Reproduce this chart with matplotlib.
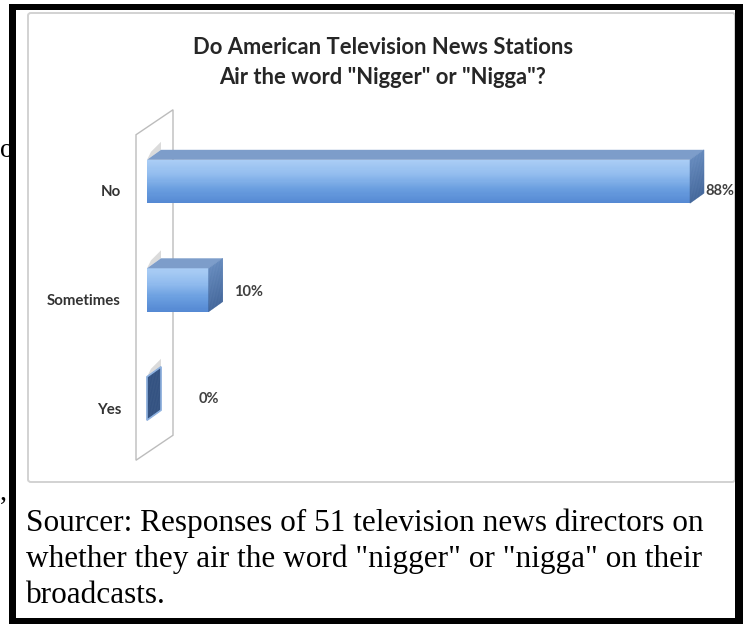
import matplotlib
matplotlib.use("Agg")
import matplotlib.pyplot as plt
import numpy as np
from matplotlib.patches import Polygon, Rectangle, FancyBboxPatch
from matplotlib.transforms import offset_copy
import matplotlib.colors as mcolors

# ---------------- data ----------------
categories = ["Yes", "Sometimes", "No"]
values = [0, 10, 88]
value_labels = ["0%", "10%", "88%"]
title_lines = ["Do American Television News Stations",
               'Air the word "Nigger" or "Nigga"?']
caption_lines = ["Sourcer: Responses of 51 television news directors on",
                 'whether they air the word "nigger" or "nigga" on their',
                 "broadcasts."]

# ---------------- figure ----------------
W, H, DPI = 745, 624, 100
fig = plt.figure(figsize=(W / DPI, H / DPI), dpi=DPI)
fig.patch.set_facecolor("white")


def fx(px):
    return px / W


def fy(py):
    return 1 - py / H


# page fragments on the left edge (partly hidden behind the frame)
fig.text(fx(0), fy(157), "o", fontsize=20, family="Liberation Serif",
         color="black", va="baseline", ha="left", zorder=0)
fig.text(fx(0), fy(500), ",", fontsize=20, family="Liberation Serif",
         color="black", va="baseline", ha="left", zorder=0)

# chart box
box = FancyBboxPatch((fx(28), fy(482)), fx(735) - fx(28), fy(13) - fy(482),
                     boxstyle="round,pad=0,rounding_size=0.004",
                     transform=fig.transFigure, facecolor="white",
                     edgecolor="#d2d2d2", lw=1.4, zorder=1)
fig.add_artist(box)

# black frame
for (x0, y0, x1, y1) in [(9, 4, 16, 624), (9, 4, 743, 10), (735, 4, 743, 624), (9, 618, 743, 624)]:
    fig.add_artist(Rectangle((fx(x0), fy(y1)), fx(x1) - fx(x0), fy(y0) - fy(y1),
                             transform=fig.transFigure, facecolor="black",
                             edgecolor="none", zorder=10))

# title
for txt, yy in zip(title_lines, [47, 77]):
    fig.text(fx(383), fy(yy), txt, ha="center", va="center", fontsize=15.8,
             fontweight="bold", family="Lato", color="#262626", zorder=3)

# caption
for txt, yy in zip(caption_lines, [531, 567, 603]):
    fig.text(fx(26), fy(yy), txt, ha="left", va="baseline", fontsize=22.5,
             family="Liberation Serif", color="black", zorder=3)

# ---------------- axes (bar front plane) ----------------
x0_px, x88_px = 147, 690
px_per_unit = (x88_px - x0_px) / 88.0
xmax = 100
ax_w = xmax * px_per_unit
spacing = 108.5
cy_top = 181.5  # pixel (from top) of the top category centre
ax_top = cy_top - spacing / 2
ax_h = spacing * 3
ax = fig.add_axes([fx(x0_px), fy(ax_top + ax_h), ax_w / W, ax_h / H])
ax.set_xlim(0, xmax)
ax.set_ylim(-0.5, 2.5)
ax.axis("off")
ax.patch.set_visible(False)
ax.set_zorder(2)


def shift(x, y, dx, dy):
    X, Y = ax.transData.transform((x, y))
    return tuple(ax.transData.inverted().transform((X + dx, Y + dy)))


# side wall (value-zero plane)
wf = (-11, -7.5)
wb = (26, 17.5)
ylo, yhi = ax.get_ylim()
wall = Polygon([shift(0, ylo, *wf), shift(0, yhi, *wf),
                shift(0, yhi, *wb), shift(0, ylo, *wb)],
               closed=True, facecolor="white", edgecolor="#bcbcbc", lw=1.0,
               clip_on=False, zorder=1)
ax.add_patch(wall)

bh = 0.40
depth = (14, 10)
front_cmap = mcolors.LinearSegmentedColormap.from_list(
    "front", ["#5589d3", "#6b9fe0", "#92bcee", "#aacdf5"])
side_cmap = mcolors.LinearSegmentedColormap.from_list(
    "side", ["#3e6399", "#6086bb"])
N = 40
for i, (cat, v, lab) in enumerate(zip(categories, values, value_labels)):
    yb, yt = i - bh / 2, i + bh / 2
    # soft shadow on the wall at the bar's root
    sh = Polygon([(0, yt), shift(0, yt, *depth), shift(0, yt, depth[0], depth[1] + 8),
                  shift(0, yt, 4, 8)], closed=True, facecolor="#b8b8b8",
                 edgecolor="none", alpha=0.5, clip_on=False, zorder=2)
    ax.add_patch(sh)
    if v > 0:
        edges = np.linspace(yb, yt, N + 1)
        for k in range(N):
            ax.barh((edges[k] + edges[k + 1]) / 2, v, height=(yt - yb) / N,
                    left=0, color=front_cmap(k / (N - 1)), edgecolor="none",
                    clip_on=False, zorder=4)
        ax.add_patch(Polygon([(0, yt), (v, yt), shift(v, yt, *depth), shift(0, yt, *depth)],
                             closed=True, facecolor="#7d9dca", edgecolor="none",
                             clip_on=False, zorder=4))
        side_cols = [side_cmap(k / (N - 1)) for k in range(N)]
    else:
        side_cols = ["#2d4d7e"] * N
    edges = np.linspace(yb, yt, N + 1)
    for k in range(N):
        ax.add_patch(Polygon([(v, edges[k]), (v, edges[k + 1]),
                              shift(v, edges[k + 1], *depth), shift(v, edges[k], *depth)],
                             closed=True, facecolor=side_cols[k], edgecolor=side_cols[k],
                             lw=0.3, clip_on=False, zorder=4))
    if v == 0:
        ax.add_patch(Polygon([(v, yb), (v, yt), shift(v, yt, *depth), shift(v, yb, *depth)],
                             closed=True, facecolor="none", edgecolor="#8fb2e0",
                             lw=1.2, clip_on=False, zorder=5))

# category labels
cat_tr = offset_copy(ax.transData, fig=fig, x=-26, y=-11, units="dots")
for i, cat in enumerate(categories):
    ax.text(0, i, cat, transform=cat_tr, ha="right", va="center", fontsize=10.8,
            fontweight="bold", family="Lato", color="#333333", zorder=6)

# value labels
label_offsets = {"0%": (52, -0.5), "10%": (25, -2), "88%": (15, -9.5)}
for i, (v, lab) in enumerate(zip(values, value_labels)):
    dx, dy = label_offsets[lab]
    tr = offset_copy(ax.transData, fig=fig, x=dx, y=dy, units="dots")
    ax.text(v, i, lab, transform=tr, ha="left", va="center", fontsize=10.5,
            fontweight="bold", family="Lato", color="#404040", zorder=6,
            clip_on=False)

fig.savefig("out.png", dpi=DPI, facecolor="white")
